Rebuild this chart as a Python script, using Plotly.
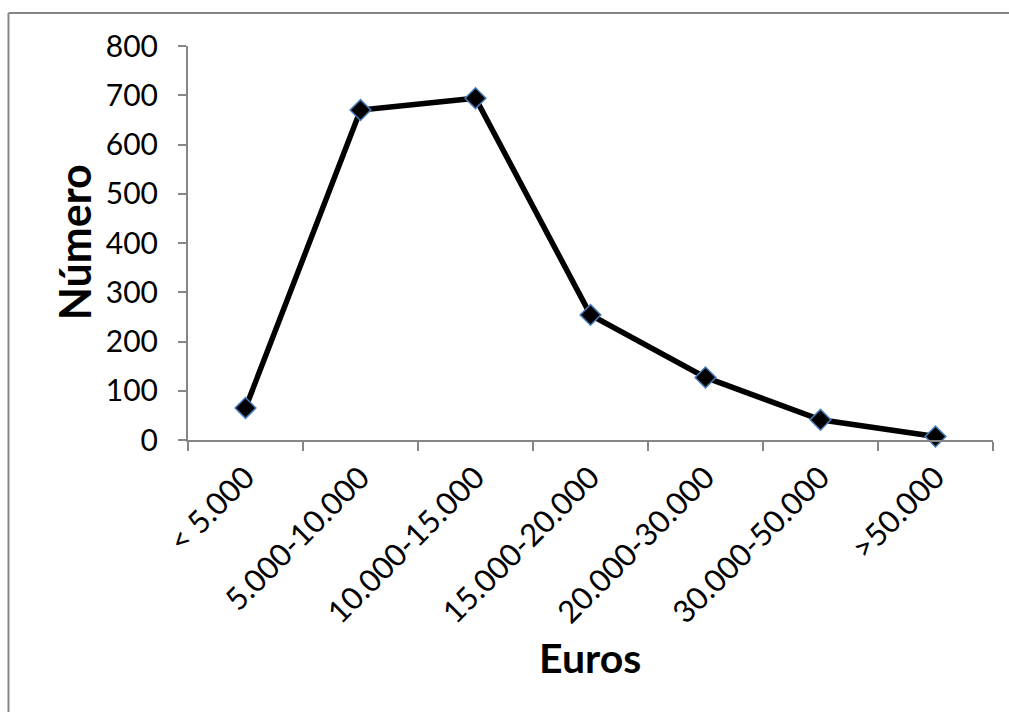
import plotly.graph_objects as go

# Income brackets and counts
categorias = ["< 5.000", "5.000-10.000", "10.000-15.000", "15.000-20.000",
              "20.000-30.000", "30.000-50.000", ">50.000"]
numero = [65, 670, 694, 254, 127, 41, 7]

y_ticks = [0, 100, 200, 300, 400, 500, 600, 700, 800]

GRIS = "#868686"
FONT = "Lato, 'Open Sans', sans-serif"

fig = go.Figure()
fig.add_trace(go.Scatter(
    x=categorias,
    y=numero,
    mode="lines+markers",
    line=dict(color="black", width=5.5),
    marker=dict(symbol="diamond", size=16, color="black",
                line=dict(color="#4a7ebb", width=1.5)),
    showlegend=False,
    cliponaxis=False,
))

fig.update_layout(
    width=1009,
    height=712,
    margin=dict(l=188, r=16, t=46, b=272),
    paper_bgcolor="white",
    plot_bgcolor="white",
    font=dict(family=FONT, color="black", size=30),
    xaxis=dict(
        type="category",
        tickangle=-45,
        tickson="boundaries",
        ticks="outside",
        ticklen=9,
        tickwidth=2,
        tickcolor=GRIS,
        showline=True,
        linecolor=GRIS,
        linewidth=2,
        showgrid=False,
        zeroline=False,
        tickfont=dict(size=31, family=FONT),
        ticklabelstandoff=5,
        range=[-0.5, 6.5],
    ),
    yaxis=dict(
        range=[0, 800],
        tickvals=y_ticks,
        ticks="outside",
        ticklen=8,
        tickwidth=2,
        tickcolor=GRIS,
        showline=True,
        linecolor=GRIS,
        linewidth=2,
        showgrid=False,
        zeroline=False,
        tickfont=dict(size=30, family=FONT),
        ticklabelstandoff=14,
    ),
    shapes=[
        # outer frame (top and left edges)
        dict(type="line", xref="paper", yref="paper",
             x0=-0.223, x1=1.03, y0=1.084, y1=1.084,
             line=dict(color=GRIS, width=2)),
        dict(type="line", xref="paper", yref="paper",
             x0=-0.223, x1=-0.223, y0=1.084, y1=-0.72,
             line=dict(color=GRIS, width=2)),
    ],
    annotations=[
        dict(text="<b>Número</b>", xref="paper", yref="paper",
             x=(74 - 188) / 805, y=(440.7 - 243) / 394,
             xanchor="center", yanchor="middle", textangle=-90,
             showarrow=False, font=dict(size=43, family=FONT)),
        dict(text="<b>Euros</b>", xref="paper", yref="paper",
             x=(590 - 188) / 805, y=(440.7 - 658) / 394,
             xanchor="center", yanchor="middle",
             showarrow=False, font=dict(size=41, family=FONT)),
    ],
)

fig.write_html("out.html")
